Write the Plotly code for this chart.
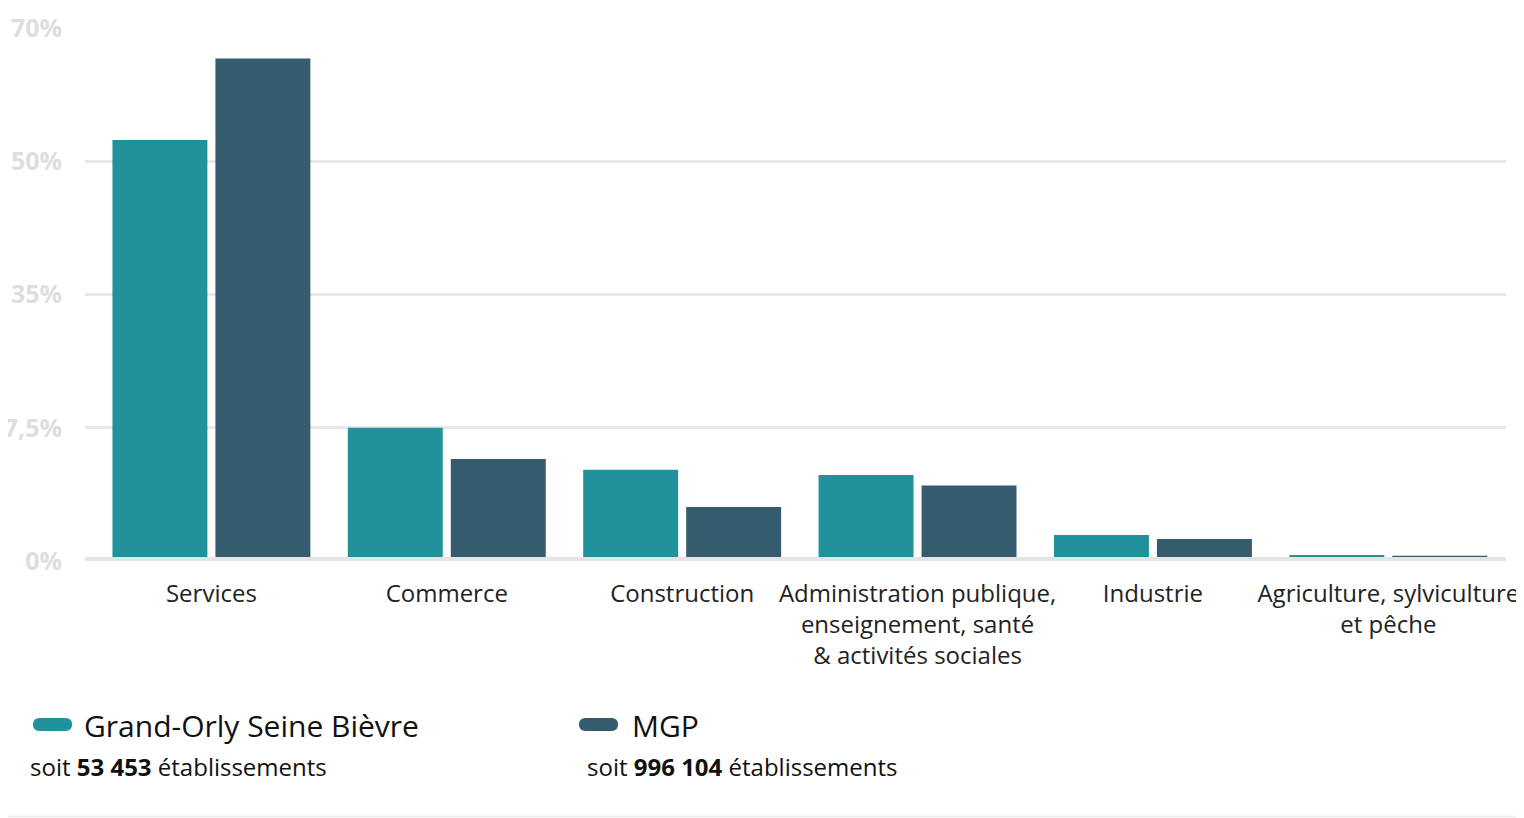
import plotly.graph_objects as go

categories = ["Services", "Commerce", "Construction",
              "Administration publique,<br>enseignement, santé<br>& activités sociales",
              "Industrie", "Agriculture, sylviculture<br>et pêche"]
gosb_values = [55.3, 17.5, 12.0, 11.3, 3.4, 0.8]
mgp_values = [66.0, 13.4, 7.1, 9.9, 2.9, 0.7]
y_tickvals = [0, 17.5, 35, 52.5, 70]
y_ticktext = ["0%", "17,5%", "35%", "50%", "70%"]
series_names = ["Grand-Orly Seine Bièvre", "MGP"]
series_notes = ["soit <b>53 453</b> établissements", "soit <b>996 104</b> établissements"]

TEAL = "#21929B"
DARK = "#355C6E"
FONT = "Open Sans"

OFF = 8  # default body margin of the page
W, H = 1524 - OFF, 818 - OFF
# page coords of plot area: x 85..1506, y 28..561
L, T = 85 - OFF, 28 - OFF
R = W - (1506 - OFF)
B = H - (561 - OFF)
PW, PH = W - L - R, H - T - B

def px(x):
    return (x - OFF - L) / PW

def py(y):
    return (H - B - (y - OFF)) / PH

fig = go.Figure()
fig.add_trace(go.Bar(x=categories, y=gosb_values, name=series_names[0],
                     marker=dict(color=TEAL, line=dict(width=0)), showlegend=False))
fig.add_trace(go.Bar(x=categories, y=mgp_values, name=series_names[1],
                     marker=dict(color=DARK, line=dict(width=0)), showlegend=False))

shapes = []
shapes.append(dict(type="line", xref="paper", yref="y", x0=0, x1=1, y0=0, y1=0,
                   line=dict(color="#e4e4e4", width=8), layer="above"))
shapes.append(dict(type="line", xref="paper", yref="paper", x0=px(0), x1=px(1530),
                   y0=py(816.5), y1=py(816.5), line=dict(color="#ececec", width=1.5)))

def pill(x0, x1, y0, y1, color):
    r = 6.5
    rx, ry = r / PW, r / PH
    X0, X1, Y0, Y1 = px(x0), px(x1), py(y1), py(y0)
    path = (f"M {X0+rx} {Y1} L {X1-rx} {Y1} Q {X1} {Y1} {X1} {Y1-ry} "
            f"Q {X1} {Y0} {X1-rx} {Y0} L {X0+rx} {Y0} Q {X0} {Y0} {X0} {Y0+ry} "
            f"Q {X0} {Y1} {X0+rx} {Y1} Z")
    return dict(type="path", xref="paper", yref="paper", path=path,
                fillcolor=color, line=dict(width=0))

shapes.append(pill(33, 72, 718, 731, TEAL))
shapes.append(pill(579, 618, 718, 731, DARK))

annotations = []
for name, note, sx, nx in [(series_names[0], series_notes[0], 82, 28),
                           (series_names[1], series_notes[1], 630, 585)]:
    annotations.append(dict(text=name, xref="paper", yref="paper", x=px(sx), y=py(725),
                            xanchor="left", yanchor="middle", showarrow=False,
                            font=dict(family=FONT, size=30, color="#111111")))
    annotations.append(dict(text=note, xref="paper", yref="paper", x=px(nx), y=py(766),
                            xanchor="left", yanchor="middle", showarrow=False,
                            font=dict(family=FONT, size=24, color="#111111")))

fig.update_layout(
    width=W, height=H,
    margin=dict(l=L, r=R, t=T, b=B, pad=0, autoexpand=False),
    paper_bgcolor="white", plot_bgcolor="white",
    barmode="group", bargap=0.125, bargroupgap=0.078,
    font=dict(family=FONT),
    shapes=shapes, annotations=annotations,
    xaxis=dict(range=[-0.537, 5.5], showgrid=False, zeroline=False, showline=False,
               ticks="", tickfont=dict(family=FONT, size=24, color="#222222"),
               ticklabelstandoff=16, automargin=False, fixedrange=True),
    yaxis=dict(range=[0, 70], tickvals=y_tickvals, ticktext=y_ticktext,
               showgrid=True, gridcolor="#e8e8e8", gridwidth=3, zeroline=False,
               showline=False, ticks="",
               tickfont=dict(family=FONT, size=25, color="#dedede", weight="bold"),
               ticklabelstandoff=22, automargin=False, fixedrange=True),
)

fig.write_html("out.html")
